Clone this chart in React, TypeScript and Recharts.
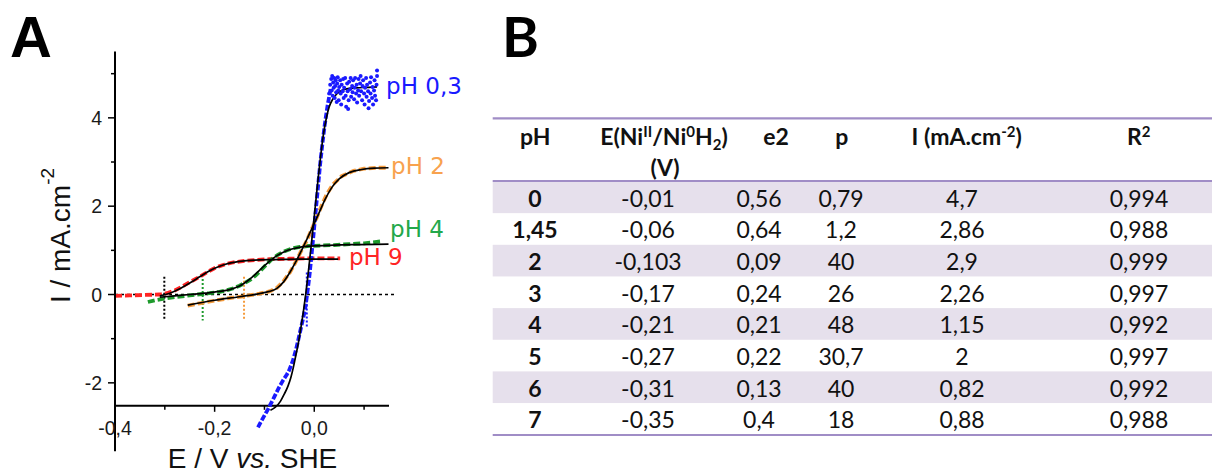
import React from 'react';
import { ComposedChart, Line, XAxis, YAxis, ReferenceLine, ReferenceDot } from 'recharts';

// ---------- panel A : I vs E curves ----------
const X_DOMAIN = [-0.4, 0.15];
const Y_DOMAIN = [-3.55, 5.5];
const X_AXIS_AT = -2.52; // the E axis crosses the I axis here

const X_TICKS = [-0.4, -0.3, -0.2, -0.1, 0, 0.1];
const X_MAJOR = [-0.4, -0.2, 0];
const X_MAJOR_LABELS = ['-0,4', '-0,2', '0,0'];
const Y_TICKS = [-2, -1, 0, 1, 2, 3, 4, 5];
const Y_MAJOR = [-2, 0, 2, 4];
const Y_MAJOR_LABELS = ['-2', '0', '2', '4'];

// pH 0,3 measured points (rising part)
const BLUE_RISE_E = [-0.113, -0.108, -0.103, -0.098, -0.093, -0.088, -0.083, -0.079, -0.075, -0.071, -0.067, -0.063, -0.059, -0.055, -0.051, -0.047, -0.043, -0.04, -0.037, -0.034, -0.031, -0.028, -0.025, -0.022, -0.019, -0.017, -0.015, -0.013, -0.011, -0.009, -0.007, -0.005, -0.003, -0.001, 0.001, 0.003, 0.005, 0.007, 0.009, 0.011, 0.013, 0.015, 0.017, 0.019, 0.021, 0.023, 0.025, 0.027, 0.029, 0.031, 0.033];
const BLUE_RISE_I = [-3.01, -2.9, -2.8, -2.7, -2.6, -2.49, -2.38, -2.29, -2.2, -2.11, -2.03, -1.95, -1.88, -1.81, -1.73, -1.62, -1.5, -1.38, -1.26, -1.12, -0.97, -0.82, -0.67, -0.52, -0.36, -0.22, -0.05, 0.12, 0.3, 0.5, 0.72, 0.95, 1.18, 1.42, 1.66, 1.9, 2.14, 2.38, 2.62, 2.86, 3.08, 3.28, 3.48, 3.66, 3.84, 4.0, 4.15, 4.3, 4.42, 4.55, 4.66];
// pH 0,3 measured points (noisy plateau)
const BLUE_NOISE_E = [0.03, 0.032, 0.034, 0.035, 0.036, 0.037, 0.038, 0.039, 0.04, 0.041, 0.042, 0.043, 0.044, 0.045, 0.046, 0.047, 0.048, 0.049, 0.05, 0.052, 0.053, 0.054, 0.055, 0.057, 0.058, 0.059, 0.06, 0.062, 0.063, 0.064, 0.066, 0.067, 0.068, 0.069, 0.07, 0.072, 0.073, 0.074, 0.076, 0.077, 0.078, 0.08, 0.081, 0.082, 0.084, 0.085, 0.086, 0.088, 0.089, 0.09, 0.092, 0.093, 0.094, 0.096, 0.097, 0.098, 0.1, 0.101, 0.102, 0.104, 0.105, 0.106, 0.108, 0.109, 0.11, 0.112, 0.113, 0.114, 0.116, 0.117, 0.118, 0.12, 0.121, 0.122, 0.124, 0.125, 0.126, 0.126];
const BLUE_NOISE_I = [4.55, 4.75, 4.88, 4.62, 4.95, 4.5, 4.8, 4.68, 4.9, 4.45, 4.72, 4.85, 4.58, 4.36, 4.78, 4.92, 4.62, 4.4, 4.7, 4.85, 4.55, 4.3, 4.75, 4.6, 4.88, 4.45, 4.68, 4.9, 4.5, 4.25, 4.78, 4.6, 4.2, 4.4, 4.82, 4.65, 4.9, 4.48, 4.72, 4.58, 4.85, 4.42, 4.68, 4.9, 4.55, 4.75, 4.35, 4.62, 4.88, 4.5, 4.78, 4.95, 4.6, 4.4, 4.72, 4.85, 4.55, 4.3, 4.68, 4.9, 4.48, 4.75, 4.6, 4.22, 4.38, 4.8, 4.55, 4.92, 4.45, 4.7, 4.3, 4.62, 4.85, 4.5, 4.4, 4.75, 4.95, 5.07];
const BLUE_FIT_E = [-0.088, -0.078, -0.068, -0.06, -0.053, -0.047, -0.042, -0.037, -0.032, -0.027, -0.022, -0.017, -0.012, -0.007, -0.002, 0.003, 0.008, 0.013, 0.018, 0.024, 0.03, 0.037, 0.045, 0.055, 0.068, 0.085, 0.105, 0.126];
const BLUE_FIT_I = [-2.62, -2.55, -2.42, -2.25, -2.08, -1.88, -1.65, -1.38, -1.1, -0.76, -0.4, 0.02, 0.5, 1.02, 1.55, 2.1, 2.65, 3.15, 3.6, 3.98, 4.25, 4.42, 4.54, 4.62, 4.66, 4.68, 4.69, 4.7];

// pH 2
const ORANGE_E = [-0.254, -0.23, -0.2, -0.17, -0.142, -0.11, -0.09, -0.075, -0.062, -0.049, -0.038, -0.027, -0.015, -0.005, 0.005, 0.015, 0.025, 0.038, 0.055, 0.079, 0.1, 0.125, 0.148];
const ORANGE_I = [-0.25, -0.2, -0.14, -0.08, -0.04, 0.02, 0.07, 0.15, 0.3, 0.5, 0.72, 0.97, 1.22, 1.48, 1.74, 2.02, 2.27, 2.5, 2.68, 2.8, 2.85, 2.87, 2.87];
const ORANGE_FIT_E = [-0.254, -0.2, -0.15, -0.11, -0.09, -0.075, -0.062, -0.05, -0.038, -0.026, -0.014, -0.002, 0.01, 0.022, 0.035, 0.05, 0.07, 0.095, 0.12, 0.149];
const ORANGE_FIT_I = [-0.24, -0.13, -0.05, 0.02, 0.07, 0.14, 0.28, 0.48, 0.72, 0.99, 1.27, 1.56, 1.86, 2.16, 2.42, 2.62, 2.76, 2.83, 2.86, 2.87];

// pH 4
const GREEN_E = [-0.334, -0.32, -0.304, -0.28, -0.257, -0.235, -0.21, -0.19, -0.175, -0.162, -0.15, -0.14, -0.129, -0.118, -0.107, -0.096, -0.085, -0.073, -0.062, -0.045, -0.029, -0.01, 0.015, 0.04, 0.07, 0.1, 0.132];
const GREEN_I = [-0.17, -0.13, -0.1, -0.06, -0.03, 0.0, 0.03, 0.06, 0.1, 0.14, 0.2, 0.26, 0.33, 0.43, 0.55, 0.68, 0.8, 0.9, 0.97, 1.04, 1.08, 1.1, 1.11, 1.12, 1.14, 1.16, 1.2];
const GREEN_FIT_E = [-0.31, -0.28, -0.25, -0.22, -0.19, -0.17, -0.15, -0.135, -0.12, -0.105, -0.09, -0.075, -0.06, -0.045, -0.025, 0.0, 0.04, 0.09, 0.149];
const GREEN_FIT_I = [-0.06, -0.03, 0.0, 0.03, 0.07, 0.11, 0.19, 0.3, 0.44, 0.6, 0.75, 0.88, 0.97, 1.03, 1.08, 1.1, 1.12, 1.13, 1.14];

// pH 9
const RED_E = [-0.4, -0.37, -0.34, -0.31, -0.296, -0.28, -0.265, -0.25, -0.23, -0.213, -0.196, -0.18, -0.162, -0.14, -0.12, -0.09, -0.05, 0.0, 0.052];
const RED_I = [-0.03, -0.02, -0.01, 0.0, 0.03, 0.09, 0.18, 0.28, 0.4, 0.52, 0.62, 0.68, 0.73, 0.76, 0.78, 0.8, 0.81, 0.82, 0.82];
const RED_FIT_E = [-0.31, -0.29, -0.27, -0.25, -0.23, -0.21, -0.19, -0.17, -0.15, -0.12, -0.08, -0.03, 0.048];
const RED_FIT_I = [-0.03, 0.03, 0.13, 0.26, 0.4, 0.54, 0.64, 0.71, 0.75, 0.78, 0.79, 0.8, 0.8];

// dotted markers at E(NiII/Ni0H2)
const MARK_E = [-0.301, -0.224, -0.141, -0.015];
const MARK_TOP = [0.4, 0.35, 0.4, 0.5];
const MARK_BOTTOM = [-0.57, -0.59, -0.58, -0.77];

const CURVE_LABELS = ['pH 0,3', 'pH 2', 'pH 4', 'pH 9'];
const CURVE_LABEL_E = [0.1442, 0.1542, 0.1522, 0.0695];
const CURVE_LABEL_I = [4.74, 2.93, 1.5, 0.86];

const BLUE = '#1a1aff';
const ORANGE = '#f59b3c';
const GREEN = '#1e9a2c';
const RED = '#ff2424';
const MARK_COLORS = ['#000', GREEN, ORANGE, BLUE];
const LABEL_COLORS = [BLUE, '#f8a24e', '#23a84a', RED];

// ---------- panel B : fit parameters ----------
const T_PH = ['0', '1,45', '2', '3', '4', '5', '6', '7'];
const T_E = ['-0,01', '-0,06', '-0,103', '-0,17', '-0,21', '-0,27', '-0,31', '-0,35'];
const T_E2 = ['0,56', '0,64', '0,09', '0,24', '0,21', '0,22', '0,13', '0,4'];
const T_P = ['0,79', '1,2', '40', '26', '48', '30,7', '40', '18'];
const T_I = ['4,7', '2,86', '2,9', '2,26', '1,15', '2', '0,82', '0,88'];
const T_R2 = ['0,994', '0,988', '0,999', '0,997', '0,992', '0,997', '0,992', '0,988'];

const zip = (xs: number[], ys: number[]) => xs.map((x, i) => ({ x, y: ys[i] }));

const CHART_W = 480;
const CHART_H = 473;
const MARGIN_TOP = 51.6;
const XAXIS_H = 21.7;
const PLOT_H = CHART_H - MARGIN_TOP - XAXIS_H;
const AXIS_SHIFT = ((X_AXIS_AT - Y_DOMAIN[0]) / (Y_DOMAIN[1] - Y_DOMAIN[0])) * PLOT_H;

const AXIS_FONT = '"Liberation Sans", Arial, sans-serif';
const TABLE_FONT = 'Lato, "Open Sans", sans-serif';

function XTick({ x, y, payload }: any) {
  const k = X_MAJOR.indexOf(payload.value);
  const y0 = y - AXIS_SHIFT;
  return (
    <g>
      <line x1={x} x2={x} y1={y0} y2={y0 + (k >= 0 ? 6 : 4)} stroke="#000" strokeWidth={1.5} />
      {k >= 0 && (
        <text x={x} y={y0 + 29} textAnchor="middle" fontSize={19.5} fontFamily={AXIS_FONT} fill="#1a1a1a">
          {X_MAJOR_LABELS[k]}
        </text>
      )}
    </g>
  );
}

function YTick({ x, y, payload }: any) {
  const k = Y_MAJOR.indexOf(payload.value);
  return (
    <g>
      <line x1={x - (k >= 0 ? 7 : 4)} x2={x} y1={y} y2={y} stroke="#000" strokeWidth={1.5} />
      {k >= 0 && (
        <text x={x - 13} y={y + 7} textAnchor="end" fontSize={19.5} fontFamily={AXIS_FONT} fill="#1a1a1a">
          {Y_MAJOR_LABELS[k]}
        </text>
      )}
    </g>
  );
}

function PanelA() {
  const dataLine = { dot: false, activeDot: false, isAnimationActive: false, strokeWidth: 3.8, strokeDasharray: '7 3' } as const;
  const fitLine = { dot: false, activeDot: false, isAnimationActive: false, stroke: '#000', strokeWidth: 1.7, type: 'monotone' } as const;
  return (
    <ComposedChart
      width={CHART_W}
      height={CHART_H}
      margin={{ top: MARGIN_TOP, right: CHART_W - 389, bottom: 0, left: 0 }}
    >
      <XAxis
        type="number"
        dataKey="x"
        domain={X_DOMAIN}
        ticks={X_TICKS}
        interval={0}
        allowDataOverflow
        axisLine={false}
        tickLine={false}
        tickSize={0}
        tickMargin={0}
        height={XAXIS_H}
        tick={XTick}
      />
      <YAxis
        type="number"
        dataKey="y"
        domain={Y_DOMAIN}
        ticks={Y_TICKS}
        interval={0}
        allowDataOverflow
        width={115}
        axisLine={{ stroke: '#000', strokeWidth: 2 }}
        tickLine={false}
        tickSize={0}
        tickMargin={0}
        tick={YTick}
      />

      <ReferenceLine y={X_AXIS_AT} stroke="#000" strokeWidth={2} />
      <ReferenceLine
        segment={[{ x: X_DOMAIN[0], y: 0 }, { x: 0.166, y: 0 }]}
        ifOverflow="visible"
        stroke="#000"
        strokeWidth={1.6}
        strokeDasharray="3 3"
      />
      {MARK_E.map((e, i) => (
        <ReferenceLine
          key={'m' + i}
          segment={[{ x: e, y: MARK_TOP[i] }, { x: e, y: MARK_BOTTOM[i] }]}
          ifOverflow="visible"
          stroke={MARK_COLORS[i]}
          strokeWidth={2}
          strokeDasharray="2 2"
        />
      ))}

      <Line data={zip(RED_E, RED_I)} dataKey="y" stroke={RED} {...dataLine} />
      <Line data={zip(GREEN_E, GREEN_I)} dataKey="y" stroke={GREEN} {...dataLine} />
      <Line data={zip(ORANGE_E, ORANGE_I)} dataKey="y" stroke={ORANGE} {...dataLine} />
      <Line data={zip(BLUE_RISE_E, BLUE_RISE_I)} dataKey="y" stroke={BLUE} {...dataLine} strokeDasharray="6 2" />
      <Line
        data={zip(BLUE_NOISE_E, BLUE_NOISE_I)}
        dataKey="y"
        stroke="none"
        dot={{ r: 2, fill: BLUE, stroke: 'none' }}
        activeDot={false}
        isAnimationActive={false}
      />

      <Line data={zip(RED_FIT_E, RED_FIT_I)} dataKey="y" {...fitLine} />
      <Line data={zip(GREEN_FIT_E, GREEN_FIT_I)} dataKey="y" {...fitLine} />
      <Line data={zip(ORANGE_FIT_E, ORANGE_FIT_I)} dataKey="y" {...fitLine} />
      <Line data={zip(BLUE_FIT_E, BLUE_FIT_I)} dataKey="y" {...fitLine} />

      {CURVE_LABELS.map((t, i) => (
        <ReferenceDot
          key={'l' + i}
          x={CURVE_LABEL_E[i]}
          y={CURVE_LABEL_I[i]}
          r={0}
          ifOverflow="visible"
          shape={(p: any) => (
            <text
              x={p.cx}
              y={p.cy + 8.4}
              fontSize={23}
              fontFamily='"DejaVu Sans", sans-serif'
              fill={LABEL_COLORS[i]}
            >
              {t}
            </text>
          )}
        />
      ))}
    </ComposedChart>
  );
}

const COL_X = [535, 648, 759, 841, 962, 1139];
const ROW_Y0 = 198.3;
const ROW_H = 31.65;
const BAND_TOP = 181.5;
const LINE_COLOR = '#a08dc6';

function PanelB() {
  const cols = [T_PH, T_E, T_E2, T_P, T_I, T_R2];
  const sup = { fontSize: 15 };
  return (
    <g fontFamily={TABLE_FONT} fontSize={23} fill="#111">
      {T_PH.map((_, i) =>
        i % 2 === 0 ? (
          <rect key={'b' + i} x={492.7} y={BAND_TOP + i * ROW_H} width={1212 - 492.7} height={ROW_H} fill="#e6e0ec" />
        ) : null
      )}
      <line x1={492.7} x2={1212} y1={118.3} y2={118.3} stroke={LINE_COLOR} strokeWidth={2.2} />
      <line x1={492.7} x2={1212} y1={181} y2={181} stroke={LINE_COLOR} strokeWidth={2.2} />
      <line x1={492.7} x2={1212} y1={435} y2={435} stroke={LINE_COLOR} strokeWidth={2.2} />

      <g fontWeight={700} textAnchor="middle">
        <text x={535.3} y={145}>pH</text>
        <text x={664} y={145}>
          E(Ni<tspan dy={-8} {...sup}>II</tspan>
          <tspan dy={8}>/Ni</tspan>
          <tspan dy={-8} {...sup}>0</tspan>
          <tspan dy={8}>H</tspan>
          <tspan dy={5} {...sup}>2</tspan>
          <tspan dy={-5}>)</tspan>
        </text>
        <text x={665} y={176}>(V)</text>
        <text x={776} y={145}>e2</text>
        <text x={841.7} y={145}>p</text>
        <text x={966.7} y={145}>
          I (mA.cm<tspan dy={-8} {...sup}>-2</tspan>
          <tspan dy={8}>)</tspan>
        </text>
        <text x={1138.7} y={145}>
          R<tspan dy={-8} {...sup}>2</tspan>
        </text>
      </g>

      {cols.map((col, c) =>
        col.map((v, i) => (
          <text
            key={c + '-' + i}
            x={COL_X[c]}
            y={ROW_Y0 + i * ROW_H + 8.3}
            textAnchor="middle"
            fontWeight={c === 0 ? 700 : 400}
          >
            {v}
          </text>
        ))
      )}
    </g>
  );
}

export default function App() {
  return (
    <div style={{ position: 'absolute', left: 0, top: 0, width: 1212, height: 473, background: '#fff', overflow: 'hidden' }}>
      <div style={{ position: 'absolute', left: 0, top: 0 }}>
        <PanelA />
      </div>
      <svg
        width={1212}
        height={473}
        style={{ position: 'absolute', left: 0, top: 0, pointerEvents: 'none' }}
      >
        <text x={10} y={57.3} fontSize={58} fontWeight={700} fontFamily={AXIS_FONT} fill="#000">A</text>
        <text
          transform="translate(70,235.5) rotate(-90)"
          textAnchor="middle"
          fontSize={28}
          fontFamily={AXIS_FONT}
          fill="#111"
        >
          I / mA.cm<tspan dy={-16} fontSize={19}>-2</tspan>
        </text>
        <text x={252.5} y={468} textAnchor="middle" fontSize={28} fontFamily={AXIS_FONT} fill="#111">
          E / V <tspan fontStyle="italic">vs.</tspan> SHE
        </text>
        <text x={502} y={57.3} fontSize={56} fontWeight={700} fontFamily={TABLE_FONT} fill="#000">B</text>
        <PanelB />
      </svg>
    </div>
  );
}
